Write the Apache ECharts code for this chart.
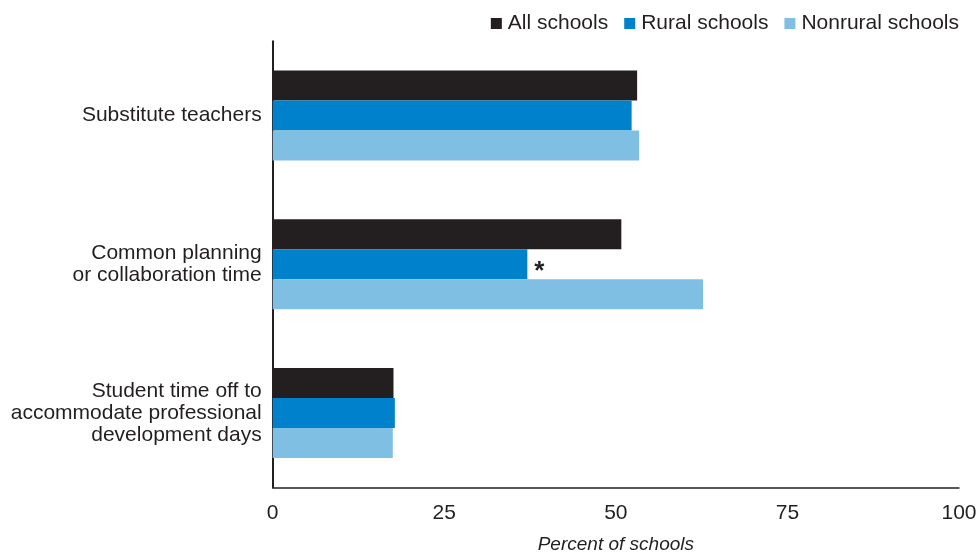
<!DOCTYPE html>
<html>
<head>
<meta charset="utf-8">
<script src="https://cdn.jsdelivr.net/npm/echarts@6/dist/echarts.min.js"></script>
<style>html,body{margin:0;padding:0;background:#fff;}#c{width:979px;height:552px;}</style>
</head>
<body>
<div id="c"></div>
<script>
const categories = ["Substitute teachers", "Common planning\nor collaboration time", "Student time off to\naccommodate professional\ndevelopment days"];
const seriesNames = ["All schools", "Rural schools", "Nonrural schools"];
const allSchools = [53.1, 50.8, 17.6];
const ruralSchools = [52.3, 37.1, 17.8];
const nonruralSchools = [53.4, 62.7, 17.5];
const significant = [false, true, false];
const xTicks = [0, 25, 50, 75, 100];
const colors = ["#231f20", "#0081cc", "#80bfe4"];
const FONT = "'Liberation Sans', Arial, sans-serif";
const TXT = "#231f20";

const chart = echarts.init(document.getElementById('c'), null, {renderer: 'canvas'});
const ruralData = ruralSchools.map((v, i) => significant[i] ? {
  value: v,
  label: {show: true, position: 'right', formatter: '*', distance: 7, offset: [0, 8],
    fontSize: 26, fontWeight: 'bold', color: TXT, fontFamily: FONT}
} : v);

chart.setOption({
  animation: false,
  textStyle: {fontFamily: FONT},
  legend: {
    top: 8, right: 15, itemWidth: 11, itemHeight: 11, itemGap: 16, icon: 'rect',
    textStyle: {fontSize: 21, color: TXT, fontFamily: FONT, padding: [0, 0, 0, 1]},
    data: seriesNames
  },
  grid: {left: 272.7, right: 20, top: 41.25, bottom: 64.75, containLabel: false, outerBoundsMode: 'none'},
  xAxis: {
    type: 'value', min: xTicks[0], max: xTicks[xTicks.length - 1], interval: 25,
    splitLine: {show: false}, axisTick: {show: false},
    axisLine: {show: true, lineStyle: {color: TXT, width: 1.5}},
    axisLabel: {fontSize: 21, color: TXT, margin: 15, fontFamily: FONT},
    name: 'Percent of schools', nameLocation: 'middle', nameGap: 48,
    nameTextStyle: {fontSize: 19, fontStyle: 'italic', color: TXT, fontFamily: FONT}
  },
  yAxis: {
    type: 'category', data: categories, inverse: true,
    axisTick: {show: false},
    axisLine: {show: true, lineStyle: {color: TXT, width: 2}},
    axisLabel: {fontSize: 21, color: TXT, margin: 11, lineHeight: 22, align: 'right', fontFamily: FONT}
  },
  series: [
    {name: seriesNames[0], type: 'bar', data: allSchools, barWidth: 30, barGap: '0%', itemStyle: {color: colors[0]}},
    {name: seriesNames[1], type: 'bar', data: ruralData, barWidth: 30, barGap: '0%', itemStyle: {color: colors[1]}},
    {name: seriesNames[2], type: 'bar', data: nonruralSchools, barWidth: 30, barGap: '0%', itemStyle: {color: colors[2]}}
  ]
});
</script>
</body>
</html>
